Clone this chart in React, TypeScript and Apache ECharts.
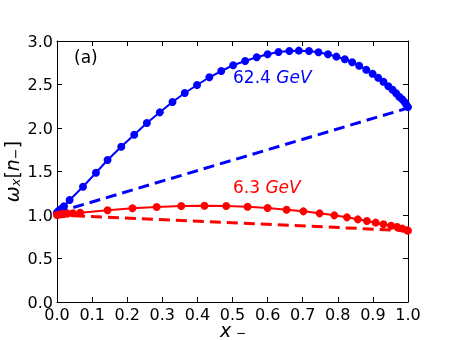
import React, { useEffect, useRef } from "react";
import * as echarts from "echarts";

const blueX = [0, 0.005, 0.012, 0.02, 0.036, 0.074, 0.111, 0.144, 0.183, 0.22, 0.256, 0.293, 0.329, 0.364, 0.399, 0.434, 0.468, 0.502, 0.536, 0.569, 0.6, 0.631, 0.662, 0.689, 0.718, 0.745, 0.772, 0.796, 0.82, 0.841, 0.861, 0.881, 0.899, 0.915, 0.93, 0.944, 0.956, 0.966, 0.975, 0.983, 0.99, 0.995, 1.0];
const blueY = [1.03, 1.05, 1.07, 1.1, 1.172, 1.325, 1.486, 1.632, 1.785, 1.923, 2.057, 2.18, 2.299, 2.402, 2.494, 2.583, 2.655, 2.721, 2.77, 2.813, 2.847, 2.874, 2.885, 2.889, 2.885, 2.87, 2.847, 2.82, 2.79, 2.755, 2.716, 2.67, 2.624, 2.578, 2.532, 2.48, 2.44, 2.4, 2.36, 2.33, 2.3, 2.27, 2.24];
const redX = [0, 0.005, 0.012, 0.02, 0.03, 0.045, 0.066, 0.144, 0.215, 0.284, 0.354, 0.42, 0.482, 0.543, 0.6, 0.654, 0.702, 0.748, 0.79, 0.826, 0.857, 0.883, 0.908, 0.93, 0.952, 0.969, 0.984, 0.997, 1.0];
const redY = [1.0, 1.004, 1.008, 1.012, 1.016, 1.021, 1.026, 1.054, 1.077, 1.092, 1.103, 1.107, 1.103, 1.095, 1.08, 1.061, 1.042, 1.019, 0.996, 0.973, 0.95, 0.931, 0.912, 0.893, 0.877, 0.862, 0.843, 0.825, 0.82];
const blueDashX = [0, 1];
const blueDashY = [1.03, 2.23];
const redDashX = [0, 1];
const redDashY = [1.0, 0.82];

const zip = (xs: number[], ys: number[]) => xs.map((x, i) => [x, ys[i]]);

export default function App() {
  const ref = useRef<HTMLDivElement>(null);
  useEffect(() => {
    if (!ref.current) return;
    const chart = echarts.init(ref.current, undefined, { renderer: "svg" });
    const font = "DejaVu Sans";
    const axisCommon = {
      axisLine: { show: true, onZero: false, lineStyle: { color: "#000", width: 1 } },
      splitLine: { show: false },
    };
    chart.setOption({
      animation: false,
      textStyle: { fontFamily: font },
      grid: { left: 57, right: 46, top: 41, bottom: 38, containLabel: false, outerBoundsMode: "none" },
      xAxis: [
        {
          ...axisCommon,
          type: "value",
          min: 0,
          max: 1,
          interval: 0.1,
          axisTick: { show: true, inside: true, length: 5, lineStyle: { color: "#000" } },
          axisLabel: {
            show: true,
            color: "#000",
            fontSize: 16,
            fontFamily: font,
            margin: 4,
            hideOverlap: false,
            showMinLabel: true,
            showMaxLabel: true,
            formatter: (v: number) => v.toFixed(1),
          },
        },
        {
          ...axisCommon,
          type: "value",
          position: "top",
          min: 0,
          max: 1,
          interval: 0.1,
          axisTick: { show: true, inside: true, length: 5, lineStyle: { color: "#000" } },
          axisLabel: { show: false },
        },
      ],
      yAxis: [
        {
          ...axisCommon,
          type: "value",
          min: 0,
          max: 3,
          interval: 0.5,
          axisTick: { show: true, inside: true, length: 5, lineStyle: { color: "#000" } },
          axisLabel: {
            show: true,
            color: "#000",
            fontSize: 16,
            fontFamily: font,
            margin: 4,
            showMinLabel: true,
            showMaxLabel: true,
            formatter: (v: number) => v.toFixed(1),
          },
          name: "{i|ω}{s|x}{n|[}{i|n}{s|−}{n|]}",
          nameLocation: "middle",
          nameRotate: 90,
          nameGap: 35,
          nameMoveOverlap: false,
          nameTextStyle: {
            rich: {
              i: { fontSize: 19, fontStyle: "italic", fontFamily: font, color: "#000" },
              n: { fontSize: 19, fontFamily: font, color: "#000" },
              s: { fontSize: 13, fontStyle: "italic", fontFamily: font, color: "#000", padding: [8, 0, 0, 0] },
            },
          },
        },
        {
          ...axisCommon,
          type: "value",
          position: "right",
          min: 0,
          max: 3,
          interval: 0.5,
          axisTick: { show: true, inside: true, length: 5, lineStyle: { color: "#000" } },
          axisLabel: { show: false },
        },
      ],
      series: [
        {
          type: "line",
          data: zip(blueDashX, blueDashY),
          symbol: "none",
          lineStyle: { color: "#0000ff", width: 3, type: [11, 6] },
          z: 2,
        },
        {
          type: "line",
          data: zip(redDashX, redDashY),
          symbol: "none",
          lineStyle: { color: "#ff0000", width: 3, type: [11, 6] },
          z: 2,
        },
        {
          type: "line",
          data: zip(blueX, blueY),
          symbol: "circle",
          symbolSize: 8,
          showAllSymbol: true,
          itemStyle: { color: "#0000ff" },
          lineStyle: { color: "#0000ff", width: 2 },
          z: 3,
        },
        {
          type: "line",
          data: zip(redX, redY),
          symbol: "circle",
          symbolSize: 8,
          showAllSymbol: true,
          itemStyle: { color: "#ff0000" },
          lineStyle: { color: "#ff0000", width: 2 },
          z: 3,
        },
      ],
      graphic: [
        {
          type: "text",
          left: 220,
          top: 320,
          style: { text: "x", fontSize: 19, fontStyle: "italic", fontFamily: font, fill: "#000" },
        },
        {
          type: "text",
          left: 236,
          top: 327,
          style: { text: "−", fontSize: 12, fontFamily: font, fill: "#000" },
        },
        {
          type: "text",
          left: 74,
          top: 48,
          style: { text: "(a)", fontSize: 17, fontFamily: font, fill: "#000" },
        },
        {
          type: "text",
          left: 233,
          top: 68,
          style: {
            text: "{n|62.4 }{i|GeV}",
            rich: {
              n: { fontSize: 17, fontFamily: font, fill: "#0000ff" },
              i: { fontSize: 17, fontFamily: font, fontStyle: "italic", fill: "#0000ff" },
            },
          },
        },
        {
          type: "text",
          left: 233,
          top: 178,
          style: {
            text: "{n|6.3 }{i|GeV}",
            rich: {
              n: { fontSize: 17, fontFamily: font, fill: "#ff0000" },
              i: { fontSize: 17, fontFamily: font, fontStyle: "italic", fill: "#ff0000" },
            },
          },
        },
      ],
    });
    return () => chart.dispose();
  }, []);
  return <div ref={ref} style={{ position: "fixed", left: 0, top: 0, width: 454, height: 340 }} />;
}
